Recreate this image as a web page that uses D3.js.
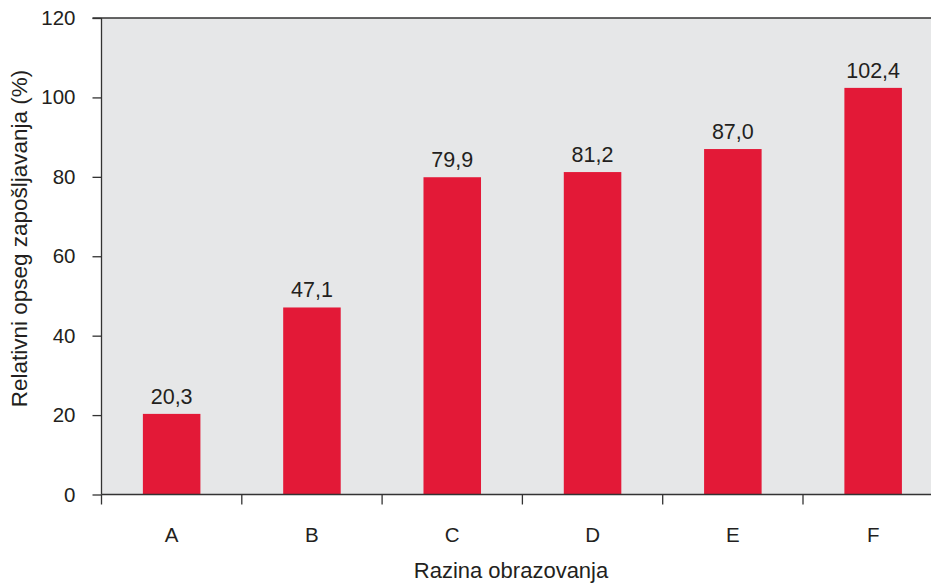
<!DOCTYPE html>
<html>
<head>
<meta charset="utf-8">
<script src="https://cdn.jsdelivr.net/npm/d3@7"></script>
<style>
  body { margin: 0; background: #fff; }
  text { font-family: "Liberation Sans", Arial, sans-serif; fill: #231f20; }
</style>
</head>
<body>
<div id="chart"></div>
<script>
// data
var categories = ["A", "B", "C", "D", "E", "F"];
var values = [20.3, 47.1, 79.9, 81.2, 87.0, 102.4];
var yTicks = [0, 20, 40, 60, 80, 100, 120];

var W = 931, H = 584;
var plotLeft = 101.5, plotTop = 18, plotBottom = 494.5;

var svg = d3.select("#chart")
  .append("svg")
    .attr("width", W)
    .attr("height", H);

// x band scale runs past the right edge like in the original
var x = d3.scaleBand()
  .domain(categories)
  .range([plotLeft, plotLeft + 6 * 140.3])
  .paddingInner(0.59)
  .paddingOuter(0.295);

var y = d3.scaleLinear()
  .domain([0, 120])
  .range([plotBottom, plotTop]);

// plot background
svg.append("rect")
  .attr("x", plotLeft)
  .attr("y", plotTop)
  .attr("width", W - plotLeft)
  .attr("height", plotBottom - plotTop)
  .attr("fill", "#e6e7e8");

// top border
svg.append("line")
  .attr("x1", plotLeft - 9).attr("x2", W)
  .attr("y1", plotTop).attr("y2", plotTop)
  .attr("stroke", "#333")
  .attr("stroke-width", 1.3);

// bars
svg.append("g")
  .attr("fill", "#e31937")
  .selectAll("rect")
  .data(values)
  .enter()
    .append("rect")
    .attr("x", (d, i) => x(categories[i]))
    .attr("y", d => y(d))
    .attr("width", x.bandwidth())
    .attr("height", d => y(0) - y(d));

// value labels
svg.append("g")
  .selectAll("text")
  .data(values)
  .enter()
    .append("text")
    .attr("x", (d, i) => x(categories[i]) + x.bandwidth() / 2)
    .attr("y", d => y(d) - 10)
    .attr("text-anchor", "middle")
    .style("font-size", "21.5px")
    .text(d => d.toFixed(1).replace(".", ","));

// Y axis
var yAxis = svg.append("g")
  .attr("transform", "translate(" + plotLeft + ",0)")
  .call(d3.axisLeft(y).tickValues(yTicks).tickSize(9).tickPadding(17));
yAxis.selectAll("text").style("font-size", "20.5px").attr("fill", "#231f20");
yAxis.selectAll("line, path").attr("stroke", "#333").attr("stroke-width", 1.3);
yAxis.select(".domain").attr("d", "M0," + plotBottom + "V" + plotTop);

// X axis: ticks between categories
var xAxisG = svg.append("g");
xAxisG.append("line")
  .attr("x1", plotLeft).attr("x2", W)
  .attr("y1", plotBottom).attr("y2", plotBottom)
  .attr("stroke", "#333")
  .attr("stroke-width", 1.5);
var step = x.step();
xAxisG.selectAll(".xtick")
  .data(categories)
  .enter()
    .append("line")
    .attr("class", "xtick")
    .attr("x1", (d, i) => plotLeft + i * step)
    .attr("x2", (d, i) => plotLeft + i * step)
    .attr("y1", plotBottom)
    .attr("y2", plotBottom + 10)
    .attr("stroke", "#333")
    .attr("stroke-width", 1.3);
xAxisG.selectAll(".xlabel")
  .data(categories)
  .enter()
    .append("text")
    .attr("class", "xlabel")
    .attr("x", d => x(d) + x.bandwidth() / 2)
    .attr("y", 542)
    .attr("text-anchor", "middle")
    .style("font-size", "20.5px")
    .text(d => d);

// axis titles
svg.append("text")
  .attr("x", 511)
  .attr("y", 578)
  .attr("text-anchor", "middle")
  .style("font-size", "22px")
  .text("Razina obrazovanja");

svg.append("text")
  .attr("transform", "translate(26.5,238.5) rotate(-90)")
  .attr("text-anchor", "middle")
  .style("font-size", "22.5px")
  .text("Relativni opseg zapošljavanja (%)");
</script>
</body>
</html>
